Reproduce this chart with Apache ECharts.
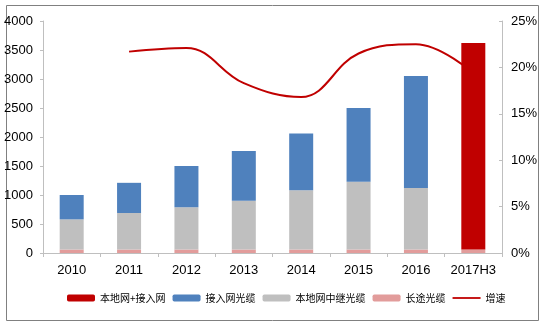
<!DOCTYPE html>
<html>
<head>
<meta charset="utf-8">
<script src="https://cdn.jsdelivr.net/npm/echarts@6/dist/echarts.min.js"></script>
<style>
  html, body { margin: 0; padding: 0; background: #fff; }
  #chart { width: 544px; height: 325px; }
</style>
</head>
<body>
<div id="chart"></div>
<script>
// Fibre-optic cable length by network segment (stacked), with year-on-year growth
var years = ['2010', '2011', '2012', '2013', '2014', '2015', '2016', '2017H3'];
var longHaul = [60, 60, 60, 60, 60, 60, 60, 60];                 // 长途光缆
var localRelay = [520, 630, 730, 840, 1020, 1170, 1060, null];   // 本地网中继光缆
var accessCable = [420, 520, 710, 860, 980, 1270, 1930, null];   // 接入网光缆
var localPlusAccess = [null, null, null, null, null, null, null, 3560]; // 本地网+接入网
var growth = [null, 21.7, 22.1, 18.3, 16.8, 21.5, 22.5, 19.4];   // 增速 (%)
var leftTicks = { min: 0, max: 4000, interval: 500 };
var rightTicks = { min: 0, max: 25, interval: 5 };

var numFont = "'Liberation Sans Narrow', 'Liberation Sans', Arial, sans-serif";
var cjkFont = "'Noto Sans CJK SC', sans-serif";
var axisGray = '#BFBFBF';
// thin horizontal stroke centred in a 28x7 legend box
var lineIcon = 'path://M0,0M28,7M0,2.6H28V4.4H0Z';

var chart = echarts.init(document.getElementById('chart'), null, { renderer: 'canvas' });
chart.setOption({
  animation: false,
  backgroundColor: '#fff',
  graphic: [{
    type: 'rect',
    shape: { x: 6.5, y: 5.5, width: 532, height: 315 },
    style: { fill: 'none', stroke: '#808080', lineWidth: 1 },
    silent: true
  }],
  grid: { left: 43, right: 42, top: 21, bottom: 72 },
  legend: {
    left: 62,
    top: 288,
    itemWidth: 28,
    itemHeight: 7,
    itemGap: 7,
    textStyle: { fontFamily: cjkFont, fontSize: 10, color: '#000' },
    data: ['本地网+接入网', '接入网光缆', '本地网中继光缆', '长途光缆',
      { name: '增速', icon: lineIcon }]
  },
  xAxis: {
    type: 'category',
    data: years,
    axisLine: { lineStyle: { color: axisGray } },
    axisTick: { show: true, length: 4, lineStyle: { color: axisGray } },
    axisLabel: { interval: 0, fontFamily: numFont, fontSize: 13, color: '#000', margin: 11 }
  },
  yAxis: [{
    type: 'value',
    min: leftTicks.min, max: leftTicks.max, interval: leftTicks.interval,
    axisLine: { show: true, lineStyle: { color: axisGray } },
    axisTick: { show: true, length: 3, lineStyle: { color: axisGray } },
    splitLine: { show: false },
    axisLabel: {
      fontFamily: numFont, fontSize: 13, color: '#000', margin: 10,
      formatter: function (v) { return String(v); }
    }
  }, {
    type: 'value',
    min: rightTicks.min, max: rightTicks.max, interval: rightTicks.interval,
    position: 'right',
    axisLine: { show: true, lineStyle: { color: axisGray } },
    axisTick: { show: true, inside: true, length: 3, lineStyle: { color: axisGray } },
    splitLine: { show: false },
    axisLabel: { fontFamily: numFont, fontSize: 13, color: '#000', margin: 9, formatter: '{value}%' }
  }],
  series: [{
    name: '长途光缆', type: 'bar', stack: 'total', barWidth: 24,
    itemStyle: { color: '#E29C9B' }, data: longHaul
  }, {
    name: '本地网中继光缆', type: 'bar', stack: 'total', barWidth: 24,
    itemStyle: { color: '#BFBFBF' }, data: localRelay
  }, {
    name: '接入网光缆', type: 'bar', stack: 'total', barWidth: 24,
    itemStyle: { color: '#4F81BD' }, data: accessCable
  }, {
    name: '本地网+接入网', type: 'bar', stack: 'total', barWidth: 24,
    itemStyle: { color: '#C00000' }, data: localPlusAccess
  }, {
    name: '增速', type: 'line', yAxisIndex: 1, smooth: 0.4,
    symbol: 'none', lineStyle: { color: '#C00000', width: 2 },
    itemStyle: { color: '#C00000' }, data: growth
  }]
});
</script>
</body>
</html>
